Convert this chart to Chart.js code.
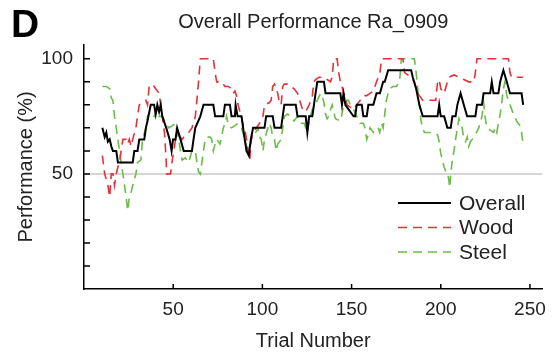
<!DOCTYPE html>
<html>
<head>
<meta charset="utf-8">
<script src="https://cdn.jsdelivr.net/npm/chart.js@4.4.1/dist/chart.umd.min.js"></script>
<style>
  html, body { margin: 0; padding: 0; background: #fff; }
  #wrap { width: 555px; height: 354px; position: relative; }
</style>
</head>
<body>
<div id="wrap"><canvas id="perf-chart"></canvas></div>
<script>
// --- data ---
const overallTrials = [10.3, 11.6, 12.5, 13.4, 14.4, 15.3, 16.2, 18.1, 19, 27.3, 28.2, 30, 31, 33.8, 34.7, 35.6, 37.4, 39.3, 40.2, 41.1, 42.1, 43, 43.9, 46.1, 48, 49.1, 49.9, 51.3, 52.2, 54.1, 55.9, 60.5, 61.4, 62.4, 65.2, 67, 72.5, 73.5, 78.1, 79, 81.8, 82.7, 84.6, 85, 86.1, 88.3, 89.2, 90.1, 91.1, 92.4, 93.5, 94.8, 101.2, 102.1, 105.8, 106.8, 110.5, 112.3, 118.7, 119.7, 124.3, 125.2, 126.2, 128, 128.9, 129.8, 130.8, 134.5, 135.4, 143.7, 144.6, 145.5, 146.5, 151.1, 152, 152.9, 155.7, 156.6, 158.5, 159.4, 162.2, 164, 165.9, 167.7, 168.6, 170.5, 183.4, 184.3, 186.2, 188, 189.9, 198.2, 199.1, 200, 201.9, 203.7, 205.6, 206.5, 208.3, 209.3, 211.1, 212.9, 214.8, 219.4, 220.3, 223.1, 224, 227.7, 228.6, 229.6, 232.3, 233.3, 235.1, 237, 238.8, 245.3, 246.2];
const overallValues = [70, 66, 68, 64, 65, 62, 60, 60, 55, 55, 60, 60, 65, 65, 70, 73, 80, 80, 76, 80, 77, 80, 75, 70, 65, 60, 65, 65, 70, 65, 60, 60, 65, 70, 75, 80, 80, 75, 75, 80, 80, 75, 75, 80, 75, 75, 70, 65, 60, 58, 65, 70, 70, 75, 75, 70, 70, 80, 80, 75, 75, 68, 75, 75, 80, 85, 90, 90, 85, 85, 80, 85, 80, 75, 75, 80, 80, 75, 75, 80, 80, 85, 85, 90, 90, 95, 95, 92, 87, 80, 75, 75, 80, 75, 75, 70, 70, 75, 75, 80, 85, 80, 75, 75, 80, 80, 85, 85, 90, 85, 85, 90, 95, 90, 85, 85, 80];

const woodTrials = [10.3, 11.6, 13.4, 14.4, 15.3, 16.2, 17.1, 18.1, 19, 19.9, 20.8, 21.8, 23.6, 24.5, 25.4, 26.4, 27.3, 29.1, 30, 31, 34.7, 35.6, 36.5, 38.4, 40.2, 42.1, 43.9, 45.1, 46, 46.3, 48.5, 49.5, 50.4, 51.3, 53.1, 55, 56.8, 58.7, 60.5, 62.4, 63.3, 64.2, 65.2, 72.5, 73.5, 74.4, 77.2, 79, 80.9, 82.7, 83.7, 84.6, 85.5, 86.4, 87.4, 88.3, 89.2, 90.1, 91.1, 92, 92.9, 93.8, 94.8, 96.6, 98.4, 100.3, 101.2, 104, 104.9, 105.8, 106.8, 108.6, 109.5, 110.5, 111.4, 112.3, 114.1, 116, 117.8, 119.7, 122.5, 124.3, 126.2, 128, 128.9, 129.8, 131.7, 134.5, 136.3, 138.2, 139.1, 140, 141.9, 142.8, 143.7, 144.6, 145.5, 146.5, 147.4, 149.2, 151.1, 152.9, 154.8, 156.6, 158.5, 160.3, 162.2, 164, 165.9, 166.8, 178.8, 179.7, 183.4, 185.2, 187.1, 188, 189.9, 197.2, 198.2, 199.1, 200, 201.9, 203.7, 204.6, 207.4, 210.2, 212.9, 215.7, 218.5, 219.4, 220.3, 237.9, 238.8, 239.7, 246.2];
const woodValues = [58, 50, 45, 40, 50, 50, 45, 50, 53, 55, 60, 65, 65, 63, 65, 62, 65, 70, 75, 80, 82, 80, 88, 89, 87, 85, 75, 68, 57, 50, 50, 56, 60, 65, 67, 65, 67, 68, 70, 75, 82, 90, 100, 100, 94, 90, 90, 88, 88, 87, 85, 86, 84, 80, 77, 75, 71, 70, 65, 60, 56, 65, 68, 70, 72, 75, 80, 81, 82, 88, 89, 85, 81, 80, 88, 89, 89, 88, 87, 85, 78, 77, 80, 84, 90, 91, 92, 92, 91, 90, 92, 100, 100, 94, 90, 88, 85, 84, 80, 79, 78, 80, 82, 84, 84, 85, 86, 90, 94, 100, 100, 94, 92, 90, 85, 84, 82, 82, 90, 91, 87, 85, 90, 92, 93, 92, 91, 90, 90, 94, 100, 100, 94, 92, 92];

const steelTrials = [10.3, 12.5, 14.4, 15.3, 16.2, 17.1, 18.1, 19, 19.9, 20.8, 21.8, 22.7, 23.6, 24.5, 25.4, 26.4, 27.3, 29.1, 30, 31.9, 32.8, 34.7, 35.6, 37.4, 39.3, 41.1, 42.1, 43.9, 45.8, 47.6, 49.5, 51.3, 52.2, 53.1, 54.1, 55, 56.8, 58.7, 60.5, 62.4, 63.3, 64.2, 65.2, 66.1, 67, 67.9, 68.9, 70.7, 71.6, 72.5, 73.5, 74.4, 76.2, 77.1, 78.1, 79, 79.9, 80.9, 82.7, 84.6, 86.4, 88.3, 90.1, 91.1, 92, 92.9, 93.8, 95.7, 97.5, 98.4, 99.4, 100.3, 101.2, 103.1, 104, 104.9, 105.8, 106.8, 107.7, 108.6, 110.5, 111.4, 112.3, 114.1, 116, 117.8, 119.7, 121.5, 123.4, 125.2, 126.2, 128, 129.8, 130.8, 132.6, 133.5, 134.5, 135.4, 136.3, 137.2, 138.2, 139.1, 140, 140.9, 143.7, 144.6, 145.5, 147.4, 148.3, 149.2, 151.1, 152.9, 154.8, 156.6, 157.5, 158.5, 159.4, 160.3, 162.2, 164, 164.9, 165.8, 166.8, 167.7, 168.6, 169.5, 170.5, 171.4, 173.2, 175.1, 176.9, 177.9, 185.2, 186.2, 187.1, 188, 188.9, 189.9, 190.8, 195.4, 198.2, 199.1, 200, 200.9, 201.9, 202.8, 203.7, 204.6, 205, 205.6, 206.5, 207.4, 208.3, 210.2, 211.1, 212, 212.9, 213.9, 214.8, 215.7, 216.6, 217.6, 219.4, 221.3, 223.1, 224, 225, 225.9, 227.7, 229.6, 230.5, 231.4, 232.3, 233.3, 234.2, 235.1, 236, 237, 238.8, 240.7, 242.5, 244.3, 245.3, 246.2];
const steelValues = [88, 88, 87, 83, 82, 75, 70, 65, 60, 55, 50, 45, 40, 34, 40, 42, 45, 50, 55, 56, 65, 70, 75, 77, 75, 78, 75, 75, 72, 70, 71, 72, 68, 65, 60, 56, 57, 55, 60, 60, 55, 51, 50, 55, 60, 65, 66, 66, 65, 60, 63, 65, 63, 66, 70, 72, 75, 71, 70, 71, 72, 70, 65, 62, 60, 60, 65, 67, 70, 66, 65, 60, 65, 70, 72, 70, 66, 65, 60, 63, 65, 70, 75, 76, 75, 73, 75, 72, 72, 68, 73, 78, 80, 82, 85, 84, 81, 76, 74, 75, 78, 80, 77, 74, 73, 76, 80, 82, 82, 80, 78, 75, 72, 72, 70, 65, 67, 70, 68, 70, 70, 68, 72, 70, 76, 82, 85, 87, 88, 88, 90, 100, 100, 94, 87, 80, 73, 70, 68, 68, 67, 64, 59, 56, 53, 51, 51, 47, 44, 50, 56, 60, 65, 74, 72, 70, 65, 64, 66, 62, 64, 65, 67, 70, 75, 81, 74, 70, 69, 68, 70, 68, 72, 76, 81, 87, 90, 84, 80, 76, 73, 71, 68, 62];

const xTickValues = [50, 100, 150, 200, 250];
const yTickValues = [10, 20, 30, 40, 50, 60, 70, 80, 90, 100];
const yTickLabels = [50, 100];
const chanceLevel = 50;

const fontFamily = '"Liberation Sans", Arial, sans-serif';
const toPoints = (xs, ys) => xs.map((x, i) => ({ x: x, y: ys[i] }));

// --- extra drawing: chance line, inward ticks, title, legend ---
const figureDecor = {
    id: 'figureDecor',
    beforeDatasetsDraw(chart) {
        const { ctx, chartArea, scales } = chart;
        const y50 = scales.y.getPixelForValue(chanceLevel);
        ctx.save();
        ctx.strokeStyle = '#c8c8c8';
        ctx.lineWidth = 1.5;
        ctx.beginPath();
        ctx.moveTo(chartArea.left + 2, y50);
        ctx.lineTo(chartArea.right, y50);
        ctx.stroke();
        ctx.restore();
    },
    afterDraw(chart) {
        const { ctx, chartArea, scales } = chart;
        ctx.save();

        // ticks point into the plot
        ctx.strokeStyle = '#000';
        ctx.lineWidth = 1.5;
        ctx.beginPath();
        scales.x.ticks.forEach(t => {
            const px = scales.x.getPixelForValue(t.value);
            ctx.moveTo(px, chartArea.bottom);
            ctx.lineTo(px, chartArea.bottom - 5);
        });
        scales.y.ticks.forEach(t => {
            const py = scales.y.getPixelForValue(t.value);
            ctx.moveTo(chartArea.left, py);
            ctx.lineTo(chartArea.left + 6, py);
        });
        ctx.stroke();

        // panel letter + title
        ctx.fillStyle = '#000';
        ctx.textBaseline = 'alphabetic';
        ctx.textAlign = 'left';
        ctx.font = 'bold 39px ' + fontFamily;
        ctx.fillText('D', 11, 37);
        ctx.fillStyle = '#222';
        ctx.textAlign = 'center';
        ctx.font = '20px ' + fontFamily;
        ctx.fillText('Overall Performance Ra_0909', (chartArea.left + chartArea.right) / 2, 28);

        // legend
        ctx.textAlign = 'left';
        ctx.textBaseline = 'middle';
        ctx.font = '21px ' + fontFamily;
        chart.data.datasets.forEach((ds, i) => {
            const ly = 203 + i * 24.5;
            ctx.strokeStyle = ds.borderColor;
            ctx.lineWidth = ds.borderWidth;
            ctx.setLineDash(ds.borderDash || []);
            ctx.beginPath();
            ctx.moveTo(398, ly);
            ctx.lineTo(451, ly);
            ctx.stroke();
            ctx.setLineDash([]);
            ctx.fillStyle = '#222';
            ctx.fillText(ds.label, 459, ly + 1);
        });
        ctx.restore();
    }
};

const chartCanvas = document.getElementById('perf-chart');

new Chart(chartCanvas, {
    type: 'line',
    data: {
        datasets: [
            {
                label: 'Overall',
                data: toPoints(overallTrials, overallValues),
                borderColor: '#000000',
                borderWidth: 2,
                pointRadius: 0,
                order: 0
            },
            {
                label: 'Wood',
                data: toPoints(woodTrials, woodValues),
                borderColor: '#e3323a',
                borderWidth: 1.6,
                borderDash: [9, 6],
                pointRadius: 0,
                order: 1
            },
            {
                label: 'Steel',
                data: toPoints(steelTrials, steelValues),
                borderColor: '#6dbb4a',
                borderWidth: 1.6,
                borderDash: [9, 6],
                pointRadius: 0,
                order: 2
            }
        ]
    },
    options: {
        responsive: true,
        maintainAspectRatio: false,
        animation: false,
        layout: { padding: { top: 45, right: 7, left: 0, bottom: 0 } },
        plugins: {
            legend: { display: false },
            title: { display: false },
            tooltip: { enabled: false }
        },
        scales: {
            x: {
                type: 'linear',
                min: 0,
                max: 257,
                afterBuildTicks: (scale) => { scale.ticks = xTickValues.map(v => ({ value: v })); },
                afterFit: (scale) => { scale.height = 65; },
                grid: { display: false, drawTicks: false },
                border: { display: true, color: '#000', width: 1.5 },
                ticks: {
                    color: '#222',
                    padding: 9,
                    maxRotation: 0,
                    font: { family: fontFamily, size: 19 }
                },
                title: {
                    display: true,
                    text: 'Trial Number',
                    color: '#222',
                    padding: { top: 0, bottom: 1 },
                    font: { family: fontFamily, size: 20 }
                }
            },
            y: {
                min: 0,
                max: 106,
                afterBuildTicks: (scale) => { scale.ticks = yTickValues.map(v => ({ value: v })); },
                afterFit: (scale) => { scale.width = 84; },
                grid: { display: false, drawTicks: false },
                border: { display: true, color: '#000', width: 1.5 },
                ticks: {
                    color: '#222',
                    padding: 11,
                    callback: (v) => yTickLabels.includes(v) ? String(v) : '',
                    font: { family: fontFamily, size: 19 }
                },
                title: {
                    display: true,
                    text: 'Performance (%)',
                    color: '#222',
                    padding: { top: 14, bottom: 0 },
                    font: { family: fontFamily, size: 20 }
                }
            }
        }
    },
    plugins: [figureDecor]
});
</script>
</body>
</html>
